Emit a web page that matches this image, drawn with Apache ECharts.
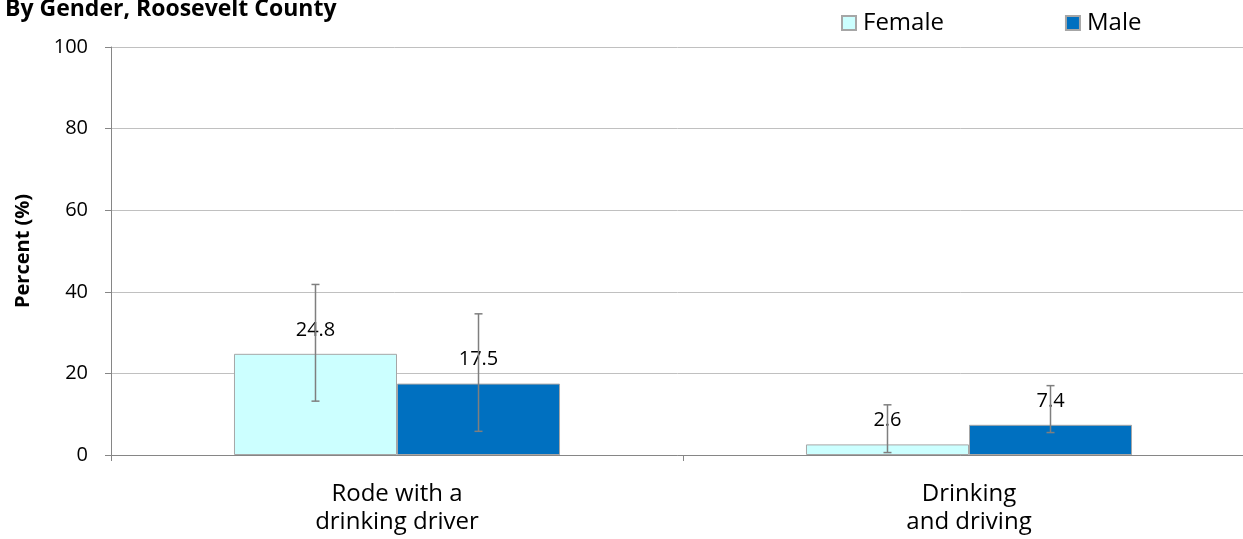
<!DOCTYPE html>
<html>
<head>
<meta charset="utf-8">
<script src="https://cdn.jsdelivr.net/npm/echarts@6/dist/echarts.min.js"></script>
<style>
html,body{margin:0;padding:0;background:#fff;}
#chart{width:1243px;height:539px;}
</style>
</head>
<body>
<div id="chart"></div>
<script>
const titleText = 'By Gender, Roosevelt County';
const categories = ['Rode with a\ndrinking driver', 'Drinking\nand driving'];
const seriesNames = ['Female', 'Male'];
const femaleValues = [24.8, 2.6];
const femaleLow = [13.2, 0.6];
const femaleHigh = [41.8, 12.3];
const maleValues = [17.5, 7.4];
const maleLow = [5.8, 5.5];
const maleHigh = [34.6, 17.0];
const yTicks = { min: 0, max: 100, interval: 20 };

const FONT = '"Open Sans", "DejaVu Sans", sans-serif';
const catGap = 0.43;

function errData(low, high) {
  return low.map((l, i) => [i, l, high[i]]);
}

function errRender(side) {
  return function (params, api) {
    const idx = api.value(0);
    const lo = api.coord([idx, api.value(1)]);
    const hi = api.coord([idx, api.value(2)]);
    const band = api.size([1, 0])[0];
    const barW = band * (1 - catGap) / 2;
    const x = lo[0] + side * barW / 2;
    const cap = 4;
    const style = { stroke: '#7f7f7f', lineWidth: 1.5 };
    return {
      type: 'group',
      children: [
        { type: 'line', shape: { x1: x, y1: hi[1], x2: x, y2: lo[1] }, style: style },
        { type: 'line', shape: { x1: x - cap, y1: hi[1], x2: x + cap, y2: hi[1] }, style: style },
        { type: 'line', shape: { x1: x - cap, y1: lo[1], x2: x + cap, y2: lo[1] }, style: style }
      ]
    };
  };
}

const chart = echarts.init(document.getElementById('chart'));
chart.setOption({
  animation: false,
  backgroundColor: '#ffffff',
  title: {
    text: titleText,
    left: 0,
    top: -7,
    textStyle: { fontFamily: FONT, fontSize: 23, fontWeight: 'bold', color: '#000' }
  },
  legend: {
    data: seriesNames,
    left: 836,
    top: 6,
    itemWidth: 14,
    itemHeight: 14,
    itemGap: 121,
    icon: 'rect',
    textStyle: { fontFamily: FONT, fontSize: 24, color: '#000', padding: [0, 0, 0, 2] }
  },
  grid: { left: 111, width: 1144, top: 47, bottom: 84, containLabel: false, outerBoundsMode: 'none' },
  xAxis: {
    type: 'category',
    data: categories,
    axisLine: { lineStyle: { color: '#868686', width: 1 } },
    axisTick: { show: true, length: 6, lineStyle: { color: '#868686' } },
    axisLabel: { fontFamily: FONT, fontSize: 24, lineHeight: 28, color: '#000', margin: 25 },
    splitLine: { show: false }
  },
  yAxis: {
    type: 'value',
    min: yTicks.min,
    max: yTicks.max,
    interval: yTicks.interval,
    name: 'Percent (%)',
    nameLocation: 'middle',
    nameGap: 78,
    nameRotate: 90,
    nameTextStyle: { fontFamily: FONT, fontSize: 20, fontWeight: 'bold', color: '#000' },
    axisLine: { show: true, lineStyle: { color: '#868686', width: 1 } },
    axisTick: { show: true, length: 6, lineStyle: { color: '#868686' } },
    axisLabel: { fontFamily: FONT, fontSize: 20, color: '#000', margin: 23 },
    splitLine: { show: true, lineStyle: { color: '#c0c0c0', width: 1 } }
  },
  series: [
    {
      name: seriesNames[0],
      type: 'bar',
      data: femaleValues,
      barGap: '0%',
      barCategoryGap: (catGap * 100) + '%',
      itemStyle: { color: '#ccffff', borderColor: '#a6a6a6', borderWidth: 1 },
      label: { show: true, position: 'top', distance: 14, fontFamily: FONT, fontSize: 20, color: '#000' },
      z: 2
    },
    {
      name: seriesNames[1],
      type: 'bar',
      data: maleValues,
      itemStyle: { color: '#0070c0', borderColor: '#a6a6a6', borderWidth: 1 },
      label: { show: true, position: 'top', distance: 14, fontFamily: FONT, fontSize: 20, color: '#000' },
      z: 2
    },
    {
      type: 'custom',
      name: 'femaleErr',
      renderItem: errRender(-1),
      data: errData(femaleLow, femaleHigh),
      encode: { x: 0, y: [1, 2] },
      z: 3,
      silent: true
    },
    {
      type: 'custom',
      name: 'maleErr',
      renderItem: errRender(1),
      data: errData(maleLow, maleHigh),
      encode: { x: 0, y: [1, 2] },
      z: 3,
      silent: true
    }
  ]
});
</script>
</body>
</html>
